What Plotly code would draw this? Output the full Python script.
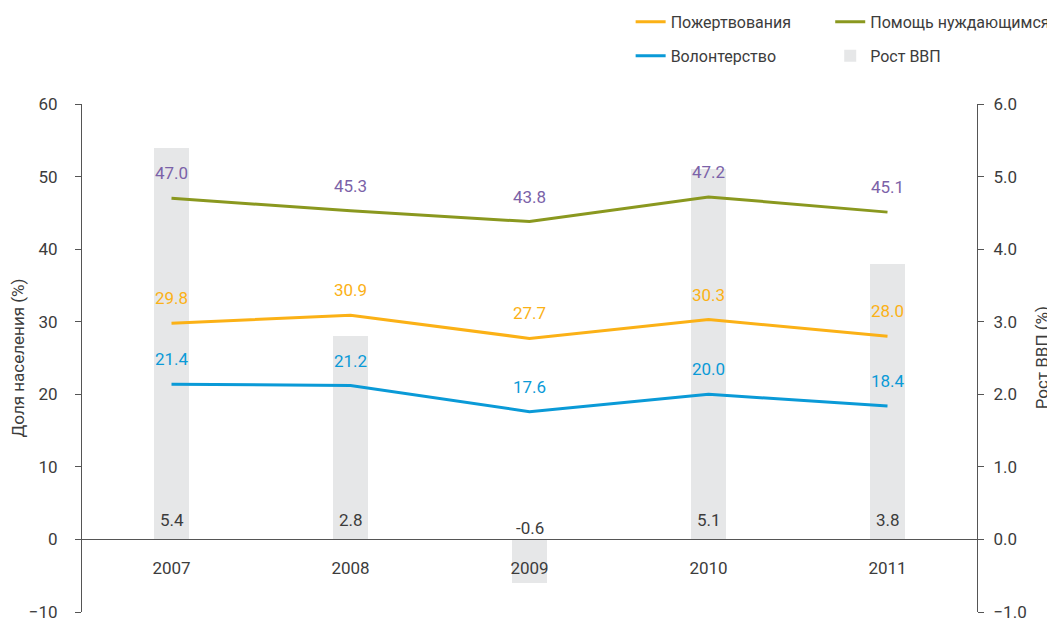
import plotly.graph_objects as go

years = ["2007", "2008", "2009", "2010", "2011"]
donations = [29.8, 30.9, 27.7, 30.3, 28.0]        # Пожертвования
help_needy = [47.0, 45.3, 43.8, 47.2, 45.1]       # Помощь нуждающимся
volunteer = [21.4, 21.2, 17.6, 20.0, 18.4]        # Волонтерство
gdp = [5.4, 2.8, -0.6, 5.1, 3.8]                  # Рост ВВП

C_ORANGE = "#FBB116"
C_OLIVE = "#8A981F"
C_BLUE = "#0A9AD7"
C_PURPLE = "#7B62A8"
C_BAR = "#E6E7E8"
C_TEXT = "#3C3C3C"
FONT = "Roboto"
FS = 17
FS_LEG = 16

fig = go.Figure()

# GDP bars on primary (right-side) axis so lines draw on top
fig.add_trace(go.Bar(
    x=years, y=gdp, name="Рост ВВП", marker=dict(color=C_BAR, line=dict(width=0)),
    width=0.2, yaxis="y", legend="legend2", legendrank=2, legendgroup="g4",
    hoverinfo="skip",
))

fig.add_trace(go.Scatter(
    x=years, y=donations, name="Пожертвования", mode="lines",
    line=dict(color=C_ORANGE, width=3), yaxis="y2", legend="legend",
    legendrank=1, legendgroup="g1",
))
fig.add_trace(go.Scatter(
    x=years, y=help_needy, name="Помощь нуждающимся", mode="lines",
    line=dict(color=C_OLIVE, width=3), yaxis="y2", legend="legend2",
    legendrank=1, legendgroup="g3",
))
fig.add_trace(go.Scatter(
    x=years, y=volunteer, name="Волонтерство", mode="lines",
    line=dict(color=C_BLUE, width=3), yaxis="y2", legend="legend",
    legendrank=2, legendgroup="g2",
))

annotations = []
for series, col in ((donations, C_ORANGE), (help_needy, C_PURPLE), (volunteer, C_BLUE)):
    for i, v in enumerate(series):
        annotations.append(dict(
            x=i, y=v, xref="x", yref="y2", text=f"{v:.1f}", showarrow=False,
            yshift=25, font=dict(color=col, size=FS, family=FONT),
        ))
for i, v in enumerate(gdp):
    annotations.append(dict(
        x=i, y=0, xref="x", yref="y", text=f"{v:.1f}", showarrow=False,
        yshift=19 if v >= 0 else 11, font=dict(color=C_TEXT, size=FS, family=FONT),
    ))
# right axis title as a rotated annotation so it stays inside the page
annotations.append(dict(
    x=1.073, y=0.5, xref="paper", yref="paper", text="Рост ВВП (%)",
    textangle=-90, showarrow=False, xanchor="center", yanchor="middle",
    font=dict(color=C_TEXT, size=FS, family=FONT),
))

axis_common = dict(
    showline=True, linecolor="#555555", linewidth=1, ticks="outside",
    ticklen=6, tickcolor="#555555", showgrid=False, zeroline=False,
    tickfont=dict(size=FS, color=C_TEXT, family=FONT), automargin=False,
    ticklabeloverflow="allow",
)

# the page body has an 8px margin, so the figure is sized/offset to compensate
fig.update_layout(
    width=1047, height=613,
    margin=dict(l=74, r=78, t=96, b=9, autoexpand=False),
    paper_bgcolor="white", plot_bgcolor="white",
    font=dict(family=FONT, color=C_TEXT, size=FS),
    bargap=0,
    xaxis=dict(
        type="category", anchor="free", position=1/7, showline=True,
        linecolor="#555555", linewidth=1, ticks="", showgrid=False,
        tickfont=dict(size=FS, color=C_TEXT, family=FONT), ticklabelstandoff=13,
        range=[-0.5, 4.5], automargin=False,
    ),
    yaxis=dict(
        side="right", range=[-1, 6], dtick=1, tickformat=".1f", ticklabelstandoff=6,
        **axis_common,
    ),
    yaxis2=dict(
        side="left", overlaying="y", range=[-10, 60], dtick=10, ticklabelstandoff=14,
        title=dict(text="Доля населения (%)", font=dict(size=FS, color=C_TEXT, family=FONT), standoff=10),
        **axis_common,
    ),
    legend=dict(
        x=0.613, y=1.195, xanchor="left", yanchor="top", orientation="v",
        font=dict(size=FS_LEG, color=C_TEXT, family=FONT), bgcolor="rgba(0,0,0,0)",
        traceorder="grouped", tracegroupgap=10,
    ),
    legend2=dict(
        x=0.836, y=1.195, xanchor="left", yanchor="top", orientation="v",
        font=dict(size=FS_LEG, color=C_TEXT, family=FONT), bgcolor="rgba(0,0,0,0)",
        traceorder="grouped", tracegroupgap=10,
    ),
    annotations=annotations,
    showlegend=True,
)

fig.write_html("out.html")
